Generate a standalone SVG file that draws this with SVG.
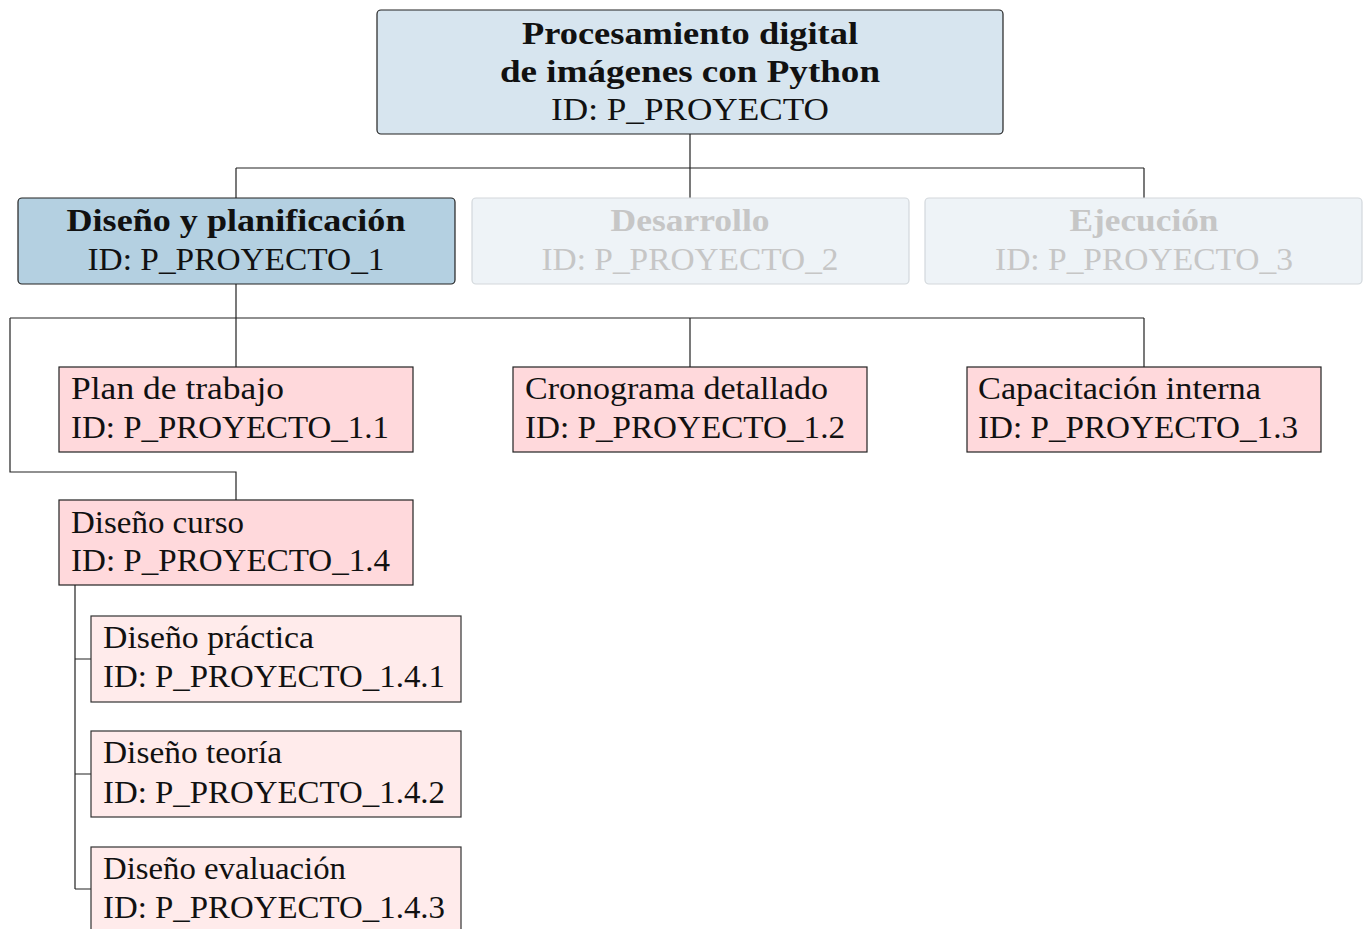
<svg xmlns="http://www.w3.org/2000/svg" width="1367" height="929" viewBox="0 0 1367 929">
  <style>
    text { font-family: "Liberation Serif", "Times New Roman", serif; font-size: 32px; fill: #111; }
    .b { font-weight: bold; }
    .c { text-anchor: middle; }
    .dim { fill: #c6c6c6; }
    .root { fill: #d7e5ef; stroke: #222; stroke-width: 1.2; }
    .sel { fill: #b4d0e1; stroke: #222; stroke-width: 1.2; }
    .off { fill: #eef3f7; stroke: #d3d8dc; stroke-width: 1.2; }
    .task { fill: #ffd9dc; stroke: #222; stroke-width: 1.2; }
    .sub { fill: #ffebeb; stroke: #333; stroke-width: 1.2; }
    .wire { fill: none; stroke: #222; stroke-width: 1.2; }
  </style>
  <rect width="1367" height="929" fill="#fff"/>

  <!-- tree connectors -->
  <g id="connectors" class="wire">
    <path d="M690 134 V168 M236 168 H1144 M236 168 V198 M690 168 V198 M1144 168 V198"/>
    <path d="M236 284 V318 M10 318 H1144 M236 318 V367 M690 318 V367 M1144 318 V367"/>
    <path d="M10 318 V472 H236 V500"/>
    <path d="M75 585 V889 M75 659 H91 M75 774 H91 M75 889 H91"/>
  </g>

  <g id="root">
    <rect class="root" x="377" y="10" width="626" height="124" rx="4"/>
    <text class="b c" x="690" y="44" textLength="336" lengthAdjust="spacingAndGlyphs">Procesamiento digital</text>
    <text class="b c" x="690" y="82" textLength="380" lengthAdjust="spacingAndGlyphs">de imágenes con Python</text>
    <text class="c" x="690" y="120" textLength="278" lengthAdjust="spacingAndGlyphs">ID: P_PROYECTO</text>
  </g>

  <g id="p1">
    <rect class="sel" x="18" y="198" width="437" height="86" rx="4"/>
    <text class="b c" x="236" y="231" textLength="339" lengthAdjust="spacingAndGlyphs">Diseño y planificación</text>
    <text class="c" x="236" y="270" textLength="297" lengthAdjust="spacingAndGlyphs">ID: P_PROYECTO_1</text>
  </g>

  <g id="p2">
    <rect class="off" x="472" y="198" width="437" height="86" rx="4"/>
    <text class="b c dim" x="690" y="231" textLength="159" lengthAdjust="spacingAndGlyphs">Desarrollo</text>
    <text class="c dim" x="690" y="270" textLength="297" lengthAdjust="spacingAndGlyphs">ID: P_PROYECTO_2</text>
  </g>

  <g id="p3">
    <rect class="off" x="925" y="198" width="437" height="86" rx="4"/>
    <text class="b c dim" x="1144" y="231" textLength="149" lengthAdjust="spacingAndGlyphs">Ejecución</text>
    <text class="c dim" x="1144" y="270" textLength="298" lengthAdjust="spacingAndGlyphs">ID: P_PROYECTO_3</text>
  </g>

  <g id="p1_1">
    <rect class="task" x="59" y="367" width="354" height="85"/>
    <text x="71" y="399" textLength="213" lengthAdjust="spacingAndGlyphs">Plan de trabajo</text>
    <text x="71" y="438" textLength="318" lengthAdjust="spacingAndGlyphs">ID: P_PROYECTO_1.1</text>
  </g>

  <g id="p1_2">
    <rect class="task" x="513" y="367" width="354" height="85"/>
    <text x="525" y="399" textLength="303" lengthAdjust="spacingAndGlyphs">Cronograma detallado</text>
    <text x="525" y="438" textLength="320" lengthAdjust="spacingAndGlyphs">ID: P_PROYECTO_1.2</text>
  </g>

  <g id="p1_3">
    <rect class="task" x="967" y="367" width="354" height="85"/>
    <text x="978" y="399" textLength="283" lengthAdjust="spacingAndGlyphs">Capacitación interna</text>
    <text x="978" y="438" textLength="320" lengthAdjust="spacingAndGlyphs">ID: P_PROYECTO_1.3</text>
  </g>

  <g id="p1_4">
    <rect class="task" x="59" y="500" width="354" height="85"/>
    <text x="71" y="533" textLength="173" lengthAdjust="spacingAndGlyphs">Diseño curso</text>
    <text x="71" y="571" textLength="319" lengthAdjust="spacingAndGlyphs">ID: P_PROYECTO_1.4</text>
  </g>

  <g id="p1_4_1">
    <rect class="sub" x="91" y="616" width="370" height="86"/>
    <text x="103" y="648" textLength="211" lengthAdjust="spacingAndGlyphs">Diseño práctica</text>
    <text x="103" y="687" textLength="342" lengthAdjust="spacingAndGlyphs">ID: P_PROYECTO_1.4.1</text>
  </g>

  <g id="p1_4_2">
    <rect class="sub" x="91" y="731" width="370" height="86"/>
    <text x="103" y="763" textLength="179" lengthAdjust="spacingAndGlyphs">Diseño teoría</text>
    <text x="103" y="803" textLength="342" lengthAdjust="spacingAndGlyphs">ID: P_PROYECTO_1.4.2</text>
  </g>

  <g id="p1_4_3">
    <rect class="sub" x="91" y="847" width="370" height="86"/>
    <text x="103" y="879" textLength="243" lengthAdjust="spacingAndGlyphs">Diseño evaluación</text>
    <text x="103" y="918" textLength="342" lengthAdjust="spacingAndGlyphs">ID: P_PROYECTO_1.4.3</text>
  </g>
</svg>
